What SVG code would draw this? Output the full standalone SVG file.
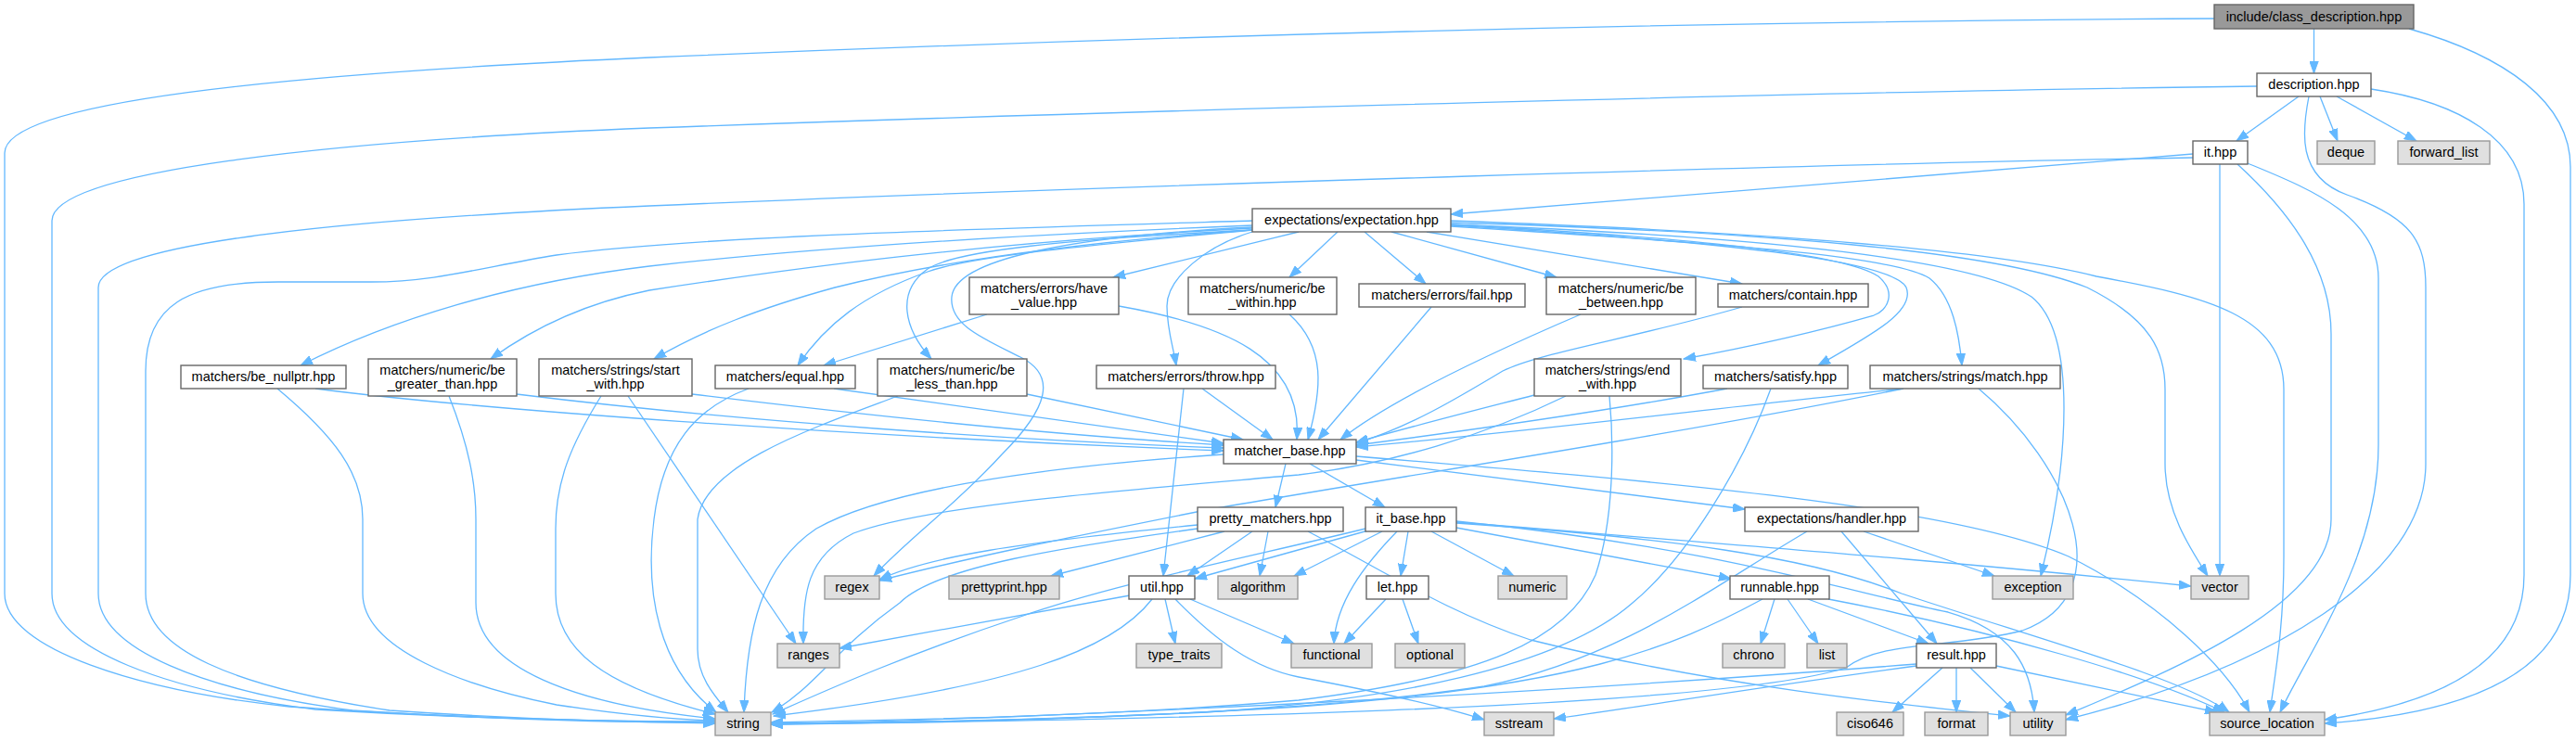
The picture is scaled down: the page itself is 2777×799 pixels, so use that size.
<svg xmlns="http://www.w3.org/2000/svg" width="2777" height="799" viewBox="0 0 2777 799">
<style>
.e path{fill:none;stroke:#63b8ff;stroke-width:1.3;marker-end:url(#a)}
.n rect{fill:#fff;stroke:#666;stroke-width:1.4}
.x rect{fill:#e0e0e0;stroke:#999;stroke-width:1.4}
.r rect{fill:#999;stroke:#666;stroke-width:1.4}
text{font-family:"Liberation Sans",Arial,sans-serif;font-size:14.5px;text-anchor:middle;fill:#000}
</style>
<defs>
<marker id="a" viewBox="0 0 14 10" refX="13" refY="5" markerWidth="14" markerHeight="10" markerUnits="userSpaceOnUse" orient="auto"><path d="M0,0.3 L13,5 L0,9.7 z" fill="#63b8ff" stroke="#63b8ff" stroke-width="1"/></marker>
</defs>
<rect width="2777" height="799" fill="#fff"/>
<g id="edges" class="e">
<path d="M2494.5,31 L2494.5,79"/>
<path d="M2387,20 C1700,24 1100,45 700,62 C300,80 5,110 5,165 L5,640 C5,700 150,745 312,762 C500,775 650,778 771,779"/>
<path d="M2597,31 C2700,60 2771,110 2771,180 L2771,620 C2771,730 2650,770 2506,780"/>
<path d="M2433,93 C2000,98 1200,120 700,138 C350,152 56,185 56,238 L56,640 C56,700 180,745 340,765 C520,776 650,778 771,778"/>
<path d="M2478,104 L2411,152"/>
<path d="M2501,104 L2520,152"/>
<path d="M2519,104 L2605,152"/>
<path d="M2489,104 C2482,140 2475,190 2530,210 C2600,235 2615,260 2615,310 L2615,500 C2615,620 2450,720 2227,776"/>
<path d="M2556,96 C2650,110 2721,150 2721,220 L2721,620 C2721,720 2620,760 2506,776"/>
<path d="M2364,170 C2000,176 1200,200 700,222 C400,235 106,260 106,310 L106,640 C106,700 220,745 380,766 C550,777 680,779 771,779"/>
<path d="M2364,166 L1564,231"/>
<path d="M2393,177 L2393,621"/>
<path d="M2412,177 C2470,230 2513,290 2513,360 L2513,560 C2513,650 2350,720 2227,771"/>
<path d="M2423,176 C2480,200 2564,230 2564,300 L2564,480 C2564,600 2490,700 2458,768"/>
<path d="M1350,238 C1050,247 750,255 600,275 C520,288 470,304 400,304 L300,304 C200,304 157,330 157,400 L157,640 C157,700 250,740 420,766 C580,777 690,779 771,780"/>
<path d="M1350,243 C1050,255 850,270 700,287 C550,305 420,345 324,394"/>
<path d="M1350,246 C1050,262 850,290 700,313 C640,325 580,350 529,387"/>
<path d="M1350,248 C1150,262 1000,285 900,310 C820,332 760,355 705,387"/>
<path d="M1350,248 C1200,262 1050,275 1000,293 C930,318 890,350 860,394"/>
<path d="M1350,248 C1150,258 1030,270 1000,290 C965,315 975,355 1004,387"/>
<path d="M1350,245 C1150,255 1030,280 1026,320 C1023,350 1060,365 1100,385 C1140,405 1130,440 1080,490 C1030,545 980,580 942,621"/>
<path d="M1350,250 C1300,265 1258,300 1258,330 C1258,355 1265,375 1268,394"/>
<path d="M1400,250 L1200,299"/>
<path d="M1442,250 L1390,299"/>
<path d="M1471,250 L1537,306"/>
<path d="M1500,250 L1678,299"/>
<path d="M1538,250 L1878,306"/>
<path d="M1564,242 C1850,258 1990,275 2025,298 C2045,315 2035,335 2020,340 C1950,360 1880,375 1815,387"/>
<path d="M1564,243 C1850,260 2040,280 2055,310 C2065,335 2020,360 1960,394"/>
<path d="M1564,244 C1850,262 2040,275 2080,300 C2105,320 2112,360 2115,394"/>
<path d="M1564,242 C1900,255 2130,280 2190,320 C2240,360 2230,500 2200,621"/>
<path d="M1564,240 C1900,250 2150,270 2250,310 C2320,345 2334,380 2334,420 L2334,500 C2334,550 2360,590 2380,621"/>
<path d="M1564,238 C1900,250 2150,270 2260,298 C2380,320 2462,340 2462,420 L2462,600 C2462,680 2452,730 2447,768"/>
<path d="M1064,339 L888,394"/>
<path d="M1206,330 C1320,350 1405,385 1398,474"/>
<path d="M1390,339 C1430,375 1425,420 1410,474"/>
<path d="M1543,331 L1421,474"/>
<path d="M1704,339 C1620,375 1500,430 1445,474"/>
<path d="M1878,331 C1760,365 1660,380 1620,400 C1570,430 1520,460 1462,478"/>
<path d="M340,419 C500,440 900,470 1319,486"/>
<path d="M299,419 C360,470 391,510 391,560 L391,640 C391,700 500,740 600,760 C680,772 730,776 771,777"/>
<path d="M557,425 C800,455 1100,475 1319,483"/>
<path d="M484,427 C505,480 513,520 513,560 L513,650 C513,720 620,760 771,775"/>
<path d="M746,425 C950,450 1150,470 1319,480"/>
<path d="M648,427 C615,480 599,520 599,570 L599,640 C599,700 650,740 771,770"/>
<path d="M677,427 L858,694"/>
<path d="M899,419 L1319,478"/>
<path d="M807,419 C750,440 715,480 705,560 C695,640 710,720 772,768"/>
<path d="M1107,425 L1340,474"/>
<path d="M968,427 C880,460 760,500 752,560 L752,700 C752,730 770,750 785,768"/>
<path d="M1296,419 L1372,474"/>
<path d="M1276,419 L1254,621"/>
<path d="M1654,426 C1600,440 1520,460 1462,477"/>
<path d="M1688,427 C1600,470 1500,500 1400,512 C1200,530 1000,545 920,575 C870,600 865,640 866,694"/>
<path d="M1735,427 C1740,480 1740,560 1720,620 C1690,690 1600,730 1400,755 C1200,772 1000,776 831,779"/>
<path d="M1862,419 C1750,440 1600,462 1462,480"/>
<path d="M1909,419 C1880,500 1820,600 1760,650 C1680,720 1500,755 1300,768 C1100,778 950,780 831,780"/>
<path d="M2052,419 C1850,440 1650,465 1462,482"/>
<path d="M2052,419 C1800,470 1500,515 1300,550 C1150,580 1050,600 948,626"/>
<path d="M2133,419 C2230,500 2290,640 2180,680 C2100,700 2030,690 1990,720 C1850,765 1200,777 831,781"/>
<path d="M1319,490 C1100,505 950,530 880,570 C820,610 805,680 802,768"/>
<path d="M1386,500 L1375,547"/>
<path d="M1412,500 L1493,547"/>
<path d="M1462,496 L1881,549"/>
<path d="M1462,492 C1800,520 2100,545 2230,600 C2330,650 2400,720 2425,768"/>
<path d="M1291,566 C1100,585 1000,600 948,625"/>
<path d="M1291,570 C1150,590 1010,610 970,650 C900,700 880,740 832,768"/>
<path d="M1320,573 L1133,621"/>
<path d="M1350,573 L1280,621"/>
<path d="M1367,573 L1358,621"/>
<path d="M1410,573 C1500,620 1560,660 1650,690 C1850,740 2050,760 2167,772"/>
<path d="M1475,572 L1288,624"/>
<path d="M1490,573 L1395,621"/>
<path d="M1506,573 C1470,610 1440,650 1438,694"/>
<path d="M1518,573 L1510,621"/>
<path d="M1543,573 L1632,621"/>
<path d="M1570,569 L1866,624"/>
<path d="M1570,563 C1900,590 2100,605 2362,632"/>
<path d="M1570,564 C1800,580 1950,600 2050,640 C2200,690 2350,730 2403,768"/>
<path d="M1570,562 C1850,590 2000,640 2100,660 C2170,680 2190,720 2193,768"/>
<path d="M1472,570 C1350,600 1200,630 1100,665 C980,705 900,740 833,770"/>
<path d="M1494,646 L1449,694"/>
<path d="M1512,646 L1529,694"/>
<path d="M1913,646 L1898,694"/>
<path d="M1927,646 L1960,694"/>
<path d="M1949,646 L2079,694"/>
<path d="M1971,646 C2150,680 2320,730 2398,768"/>
<path d="M1900,646 C1800,700 1700,740 1400,762 C1200,775 1000,779 831,781"/>
<path d="M1948,573 C1850,630 1750,710 1600,740 C1400,770 1100,778 831,780"/>
<path d="M1985,573 L2088,694"/>
<path d="M2009,573 L2150,621"/>
<path d="M2066,716 C1700,745 1200,772 831,781"/>
<path d="M2066,718 C1900,740 1750,765 1675,775"/>
<path d="M2094,720 L2040,768"/>
<path d="M2109,720 L2109,768"/>
<path d="M2124,720 L2173,768"/>
<path d="M2152,718 L2390,768"/>
<path d="M1218,642 L905,699"/>
<path d="M1256,646 L1267,694"/>
<path d="M1242,646 C1200,700 1100,740 834,772"/>
<path d="M1283,646 L1395,694"/>
<path d="M1267,646 C1310,690 1350,720 1400,730 C1480,745 1550,760 1600,776"/>
</g>
<g id="n_root" class="r"><rect x="2387" y="5" width="215" height="26"/><text x="2494.5" y="22.5">include/class_description.hpp</text></g>
<g id="n_desc" class="n"><rect x="2433" y="79" width="123" height="25"/><text x="2494.5" y="95.5">description.hpp</text></g>
<g id="n_it" class="n"><rect x="2364" y="152" width="59" height="25"/><text x="2393.5" y="168.5">it.hpp</text></g>
<g id="n_deque" class="x"><rect x="2498" y="152" width="62" height="25"/><text x="2529" y="168.5">deque</text></g>
<g id="n_forward_list" class="x"><rect x="2585" y="152" width="99" height="25"/><text x="2634.5" y="168.5">forward_list</text></g>
<g id="n_expectation" class="n"><rect x="1350" y="225" width="214" height="25"/><text x="1457" y="241.5">expectations/expectation.hpp</text></g>
<g id="n_have_value" class="n"><rect x="1045" y="299" width="161" height="40"/><text x="1125.5" y="316">matchers/errors/have</text><text x="1125.5" y="330.5">_value.hpp</text></g>
<g id="n_be_within" class="n"><rect x="1281" y="299" width="160" height="40"/><text x="1361" y="316">matchers/numeric/be</text><text x="1361" y="330.5">_within.hpp</text></g>
<g id="n_fail" class="n"><rect x="1465" y="306" width="179" height="25"/><text x="1554.5" y="322.5">matchers/errors/fail.hpp</text></g>
<g id="n_be_between" class="n"><rect x="1667" y="299" width="161" height="40"/><text x="1747.5" y="316">matchers/numeric/be</text><text x="1747.5" y="330.5">_between.hpp</text></g>
<g id="n_contain" class="n"><rect x="1852" y="306" width="162" height="25"/><text x="1933" y="322.5">matchers/contain.hpp</text></g>
<g id="n_be_nullptr" class="n"><rect x="195" y="394" width="178" height="25"/><text x="284" y="410.5">matchers/be_nullptr.hpp</text></g>
<g id="n_greater_than" class="n"><rect x="397" y="387" width="160" height="40"/><text x="477" y="404">matchers/numeric/be</text><text x="477" y="418.5">_greater_than.hpp</text></g>
<g id="n_start_with" class="n"><rect x="581" y="387" width="165" height="40"/><text x="663.5" y="404">matchers/strings/start</text><text x="663.5" y="418.5">_with.hpp</text></g>
<g id="n_equal" class="n"><rect x="771" y="394" width="151" height="25"/><text x="846.5" y="410.5">matchers/equal.hpp</text></g>
<g id="n_less_than" class="n"><rect x="946" y="387" width="161" height="40"/><text x="1026.5" y="404">matchers/numeric/be</text><text x="1026.5" y="418.5">_less_than.hpp</text></g>
<g id="n_throw" class="n"><rect x="1182" y="394" width="193" height="25"/><text x="1278.5" y="410.5">matchers/errors/throw.hpp</text></g>
<g id="n_end_with" class="n"><rect x="1654" y="387" width="158" height="40"/><text x="1733" y="404">matchers/strings/end</text><text x="1733" y="418.5">_with.hpp</text></g>
<g id="n_satisfy" class="n"><rect x="1836" y="394" width="156" height="25"/><text x="1914" y="410.5">matchers/satisfy.hpp</text></g>
<g id="n_match" class="n"><rect x="2016" y="394" width="205" height="25"/><text x="2118.5" y="410.5">matchers/strings/match.hpp</text></g>
<g id="n_matcher_base" class="n"><rect x="1319" y="474" width="143" height="26"/><text x="1390.5" y="491">matcher_base.hpp</text></g>
<g id="n_pretty" class="n"><rect x="1291" y="547" width="157" height="26"/><text x="1369.5" y="564">pretty_matchers.hpp</text></g>
<g id="n_it_base" class="n"><rect x="1472" y="547" width="98" height="26"/><text x="1521" y="564">it_base.hpp</text></g>
<g id="n_handler" class="n"><rect x="1881" y="547" width="187" height="26"/><text x="1974.5" y="564">expectations/handler.hpp</text></g>
<g id="n_regex" class="x"><rect x="889" y="621" width="59" height="25"/><text x="918.5" y="637.5">regex</text></g>
<g id="n_prettyprint" class="x"><rect x="1023" y="621" width="119" height="25"/><text x="1082.5" y="637.5">prettyprint.hpp</text></g>
<g id="n_util" class="n"><rect x="1217" y="621" width="71" height="25"/><text x="1252.5" y="637.5">util.hpp</text></g>
<g id="n_algorithm" class="x"><rect x="1313" y="621" width="86" height="25"/><text x="1356" y="637.5">algorithm</text></g>
<g id="n_let" class="n"><rect x="1473" y="621" width="67" height="25"/><text x="1506.5" y="637.5">let.hpp</text></g>
<g id="n_numeric" class="x"><rect x="1615" y="621" width="74" height="25"/><text x="1652" y="637.5">numeric</text></g>
<g id="n_runnable" class="n"><rect x="1865" y="621" width="107" height="25"/><text x="1918.5" y="637.5">runnable.hpp</text></g>
<g id="n_exception" class="x"><rect x="2148" y="621" width="87" height="25"/><text x="2191.5" y="637.5">exception</text></g>
<g id="n_vector" class="x"><rect x="2362" y="621" width="62" height="25"/><text x="2393" y="637.5">vector</text></g>
<g id="n_ranges" class="x"><rect x="838" y="694" width="67" height="26"/><text x="871.5" y="711">ranges</text></g>
<g id="n_type_traits" class="x"><rect x="1225" y="694" width="92" height="26"/><text x="1271" y="711">type_traits</text></g>
<g id="n_functional" class="x"><rect x="1392" y="694" width="87" height="26"/><text x="1435.5" y="711">functional</text></g>
<g id="n_optional" class="x"><rect x="1504" y="694" width="75" height="26"/><text x="1541.5" y="711">optional</text></g>
<g id="n_chrono" class="x"><rect x="1857" y="694" width="67" height="26"/><text x="1890.5" y="711">chrono</text></g>
<g id="n_list" class="x"><rect x="1948" y="694" width="43" height="26"/><text x="1969.5" y="711">list</text></g>
<g id="n_result" class="n"><rect x="2066" y="694" width="86" height="26"/><text x="2109" y="711">result.hpp</text></g>
<g id="n_string" class="x"><rect x="771" y="768" width="60" height="25"/><text x="801" y="784.5">string</text></g>
<g id="n_sstream" class="x"><rect x="1600" y="768" width="75" height="25"/><text x="1637.5" y="784.5">sstream</text></g>
<g id="n_ciso646" class="x"><rect x="1980" y="768" width="72" height="25"/><text x="2016" y="784.5">ciso646</text></g>
<g id="n_format" class="x"><rect x="2075" y="768" width="68" height="25"/><text x="2109" y="784.5">format</text></g>
<g id="n_utility" class="x"><rect x="2167" y="768" width="60" height="25"/><text x="2197" y="784.5">utility</text></g>
<g id="n_source_location" class="x"><rect x="2382" y="768" width="124" height="25"/><text x="2444" y="784.5">source_location</text></g>
</svg>
